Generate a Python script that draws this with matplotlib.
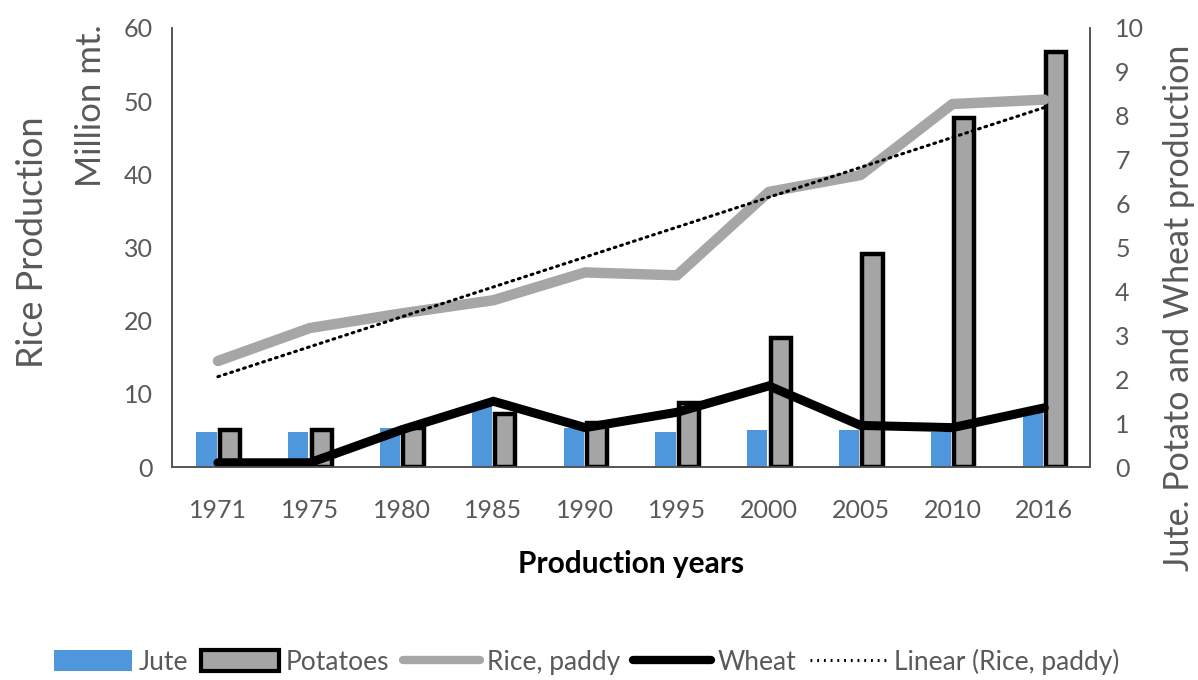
import numpy as np
import matplotlib.pyplot as plt
from matplotlib.lines import Line2D
from matplotlib.patches import Patch

years = ["1971", "1975", "1980", "1985", "1990", "1995", "2000", "2005", "2010", "2016"]
rice = [14.5, 19.0, 21.0, 22.8, 26.6, 26.2, 37.6, 39.9, 49.6, 50.2]
jute = [0.80, 0.80, 0.90, 1.40, 0.90, 0.80, 0.85, 0.85, 0.80, 1.30]
potatoes = [0.85, 0.85, 0.90, 1.20, 1.00, 1.45, 2.95, 4.85, 7.95, 9.45]
wheat = [0.10, 0.10, 0.85, 1.50, 0.90, 1.25, 1.85, 0.95, 0.90, 1.35]

plt.rcParams['font.family'] = ['Lato', 'DejaVu Sans']
tick_col = '#595959'

fig = plt.figure(figsize=(11.98, 6.8), dpi=100)
ax = fig.add_axes([0.1436, 0.313, 0.7664, 0.646])
ax2 = ax.twinx()

x = np.arange(len(years))
w = 0.22
ax2.bar(x - w / 2 - 0.015, jute, width=w, color='#4f97dc', zorder=2)
ax2.bar(x + w / 2 + 0.02, potatoes, width=w, color='#a5a5a5', edgecolor='black', linewidth=3.2, zorder=3)
ax2.plot(x, wheat, color='black', lw=6.5, zorder=4, solid_capstyle='round', solid_joinstyle='miter')

ax.plot(x, rice, color='#a6a6a6', lw=7.5, zorder=5, solid_capstyle='round')
coef = np.polyfit(x, rice, 1)
ax.plot(x, np.polyval(coef, x), color='black', lw=2.2, ls=(0, (0.6, 1.6)), zorder=6, dash_capstyle='round')

ax.set_zorder(ax2.get_zorder() + 1)
ax.patch.set_visible(False)

ax.set_xlim(-0.5, len(years) - 0.5)
ax.set_ylim(0, 60)
ax2.set_ylim(0, 10)
ax.set_yticks(range(0, 61, 10))
ax2.set_yticks(range(0, 11))
ax.set_xticks(x)
ax.set_xticklabels(years)

for a in (ax, ax2):
    a.spines['top'].set_visible(False)
    for s in ('left', 'right', 'bottom'):
        a.spines[s].set_color('#555555')
        a.spines[s].set_linewidth(1.2)
    a.tick_params(length=0, labelsize=18, colors=tick_col, pad=14)
ax.tick_params(axis='x', pad=23)
ax2.tick_params(axis='y', pad=18)

ax.set_xlabel("Production years", fontsize=21.5, fontweight='bold', color='black', labelpad=20)
fig.text(0.027, 0.644, "Rice Production", rotation=90, fontsize=26, color=tick_col, ha='center', va='center')
fig.text(0.076, 0.844, "Million mt.", rotation=90, fontsize=25, color=tick_col, ha='center', va='center')
fig.text(0.984, 0.547, "Jute. Potato and Wheat production", rotation=90, fontsize=24.5, color=tick_col,
         ha='center', va='center')

handles = [
    Patch(facecolor='#4f97dc', edgecolor='none'),
    Patch(facecolor='#a5a5a5', edgecolor='black', linewidth=3),
    Line2D([0], [0], color='#a6a6a6', lw=6, solid_capstyle='round'),
    Line2D([0], [0], color='black', lw=6, solid_capstyle='round'),
    Line2D([0], [0], color='black', lw=2.2, ls=(0, (0.6, 1.6))),
]
labels = ["Jute", "Potatoes", "Rice, paddy", "Wheat", "Linear (Rice, paddy)"]
leg = fig.legend(handles, labels, loc='center', bbox_to_anchor=(0.49, 0.027), ncol=5, frameon=False,
                 fontsize=19, handlelength=2.95, handleheight=0.85, columnspacing=0.5, handletextpad=0.25,
                 labelcolor=tick_col)

fig.savefig("out.png", dpi=100)
